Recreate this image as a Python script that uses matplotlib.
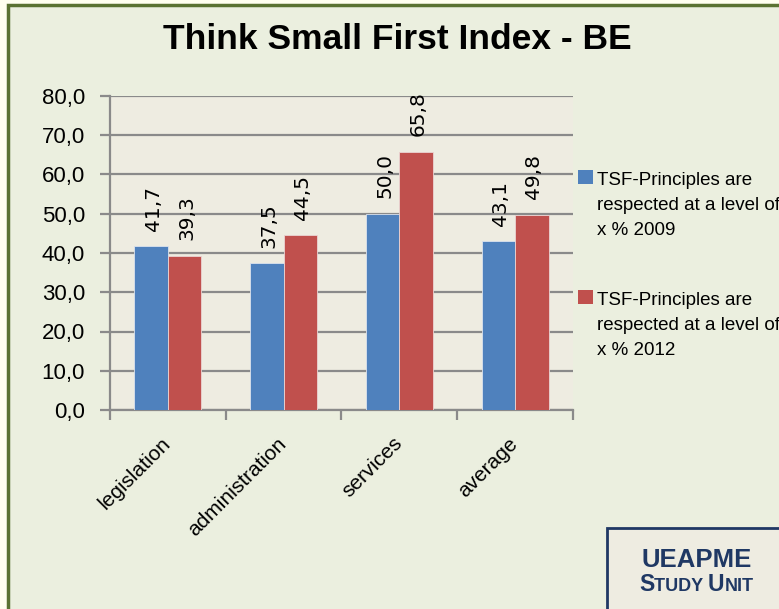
import matplotlib
matplotlib.use("Agg")
import matplotlib.pyplot as plt
import numpy as np
from matplotlib.patches import Rectangle

# data
categories = ["legislation", "administration", "services", "average"]
values_2009 = [41.7, 37.5, 50.0, 43.1]
values_2012 = [39.3, 44.5, 65.8, 49.8]
series_labels = ["TSF-Principles are\nrespected at a level of\nx % 2009",
                 "TSF-Principles are\nrespected at a level of\nx % 2012"]
title = "Think Small First Index - BE"
yticks = [0, 10, 20, 30, 40, 50, 60, 70, 80]

BLUE = "#4F81BD"
RED = "#C0504D"
BG = "#EBEFDF"
PLOT_BG = "#EEECE1"
GRID = "#8A8A8A"
NAVY = "#1F3864"
FONT = "Liberation Sans"

W, H = 779, 609


def fx(px):
    return px / W


def fy(py):
    # py measured from the top, like in the picture
    return 1 - py / H


fig = plt.figure(figsize=(W / 100, H / 100), dpi=100)
fig.patch.set_facecolor("#FFFFF0")

# chart frame (light green with dark green border, runs off right/bottom)
fig.patches.append(Rectangle((fx(8), -0.01), 1.0, fy(5) + 0.01, transform=fig.transFigure,
                             facecolor=BG, edgecolor="#5A7232", linewidth=2.5, zorder=-5))

ax = fig.add_axes([fx(110), fy(410), fx(573 - 110), (410 - 96) / H])
ax.set_facecolor(PLOT_BG)

x = np.arange(len(categories))
bw = 0.29
b1 = ax.bar(x - bw / 2, values_2009, bw, color=BLUE, edgecolor="#DCE3EE", linewidth=0.6, zorder=3)
b2 = ax.bar(x + bw / 2, values_2012, bw, color=RED, edgecolor="#EBD5D4", linewidth=0.6, zorder=3)

for bars, vals in ((b1, values_2009), (b2, values_2012)):
    for rect, v in zip(bars, vals):
        ax.annotate(f"{v:.1f}".replace(".", ","),
                    (rect.get_x() + rect.get_width() / 2, v),
                    xytext=(1.5, 11), textcoords="offset points",
                    rotation=90, ha="center", va="bottom",
                    fontsize=14.5, family="DejaVu Sans", color="black", zorder=4)

ax.set_xlim(-0.5, len(categories) - 0.5)
ax.set_ylim(0, 80)
ax.set_yticks(yticks)
ax.set_yticklabels([f"{t:.1f}".replace(".", ",") for t in yticks],
                   fontsize=16, family=FONT)
ax.yaxis.grid(True, color=GRID, linewidth=1.6, zorder=1)
ax.tick_params(axis="y", length=7, width=1.6, color=GRID, pad=11)

ax.set_xticks(np.arange(-0.5, len(categories), 1.0))
ax.set_xticklabels([])
ax.tick_params(axis="x", which="major", length=7, width=1.6, color=GRID)
ax.set_xticks(x, minor=True)
ax.set_xticklabels(categories, minor=True, rotation=45, ha="right",
                   rotation_mode="anchor", fontsize=15, family=FONT)
ax.tick_params(axis="x", which="minor", length=0, pad=22)
for lab in ax.get_xticklabels(minor=True):
    lab.set_va("center")

for s in ("top", "right"):
    ax.spines[s].set_visible(False)
for s in ("left", "bottom"):
    ax.spines[s].set_color(GRID)
    ax.spines[s].set_linewidth(1.6)
ax.set_axisbelow(True)

# title
fig.text(fx(397), fy(49), title, ha="center", va="baseline",
         fontsize=25.5, fontweight="bold", family=FONT)

# legend drawn by hand
for i, (lab, col) in enumerate(zip(series_labels, [BLUE, RED])):
    top = 170 + 120 * i
    fig.patches.append(Rectangle((fx(578), fy(top + 14)), fx(15), 14 / H,
                                 transform=fig.transFigure, facecolor=col,
                                 edgecolor="none", zorder=5))
    for j, line in enumerate(lab.split("\n")):
        fig.text(fx(597), fy(top + 15 + 25 * j), line, ha="left", va="baseline",
                 fontsize=13.5, family=FONT)

# UEAPME box
fig.patches.append(Rectangle((fx(607), -0.01), 1.0, fy(528) + 0.01,
                             transform=fig.transFigure, facecolor=PLOT_BG,
                             edgecolor=NAVY, linewidth=2, zorder=5))
fig.text(fx(697), fy(567), "UEAPME", ha="center", va="baseline",
         fontsize=18.5, fontweight="bold", family=FONT, color=NAVY, zorder=6)

# small caps "STUDY UNIT" built from pieces
pieces = [("S", 16.5), ("TUDY ", 13), ("U", 16.5), ("NIT", 13)]
sc_texts = []
for txt, size in pieces:
    sc_texts.append(fig.text(fx(639), fy(591), txt, ha="left", va="baseline",
                             fontsize=size, fontweight="bold", family=FONT,
                             color=NAVY, zorder=6))
fig.canvas.draw()
r = fig.canvas.get_renderer()
xpos = sc_texts[0].get_window_extent(r).x1
for t in sc_texts[1:]:
    t.set_position((xpos / fig.bbox.width, fy(591)))
    xpos = t.get_window_extent(r).x1

fig.savefig("out.png", dpi=100, facecolor=fig.get_facecolor())
